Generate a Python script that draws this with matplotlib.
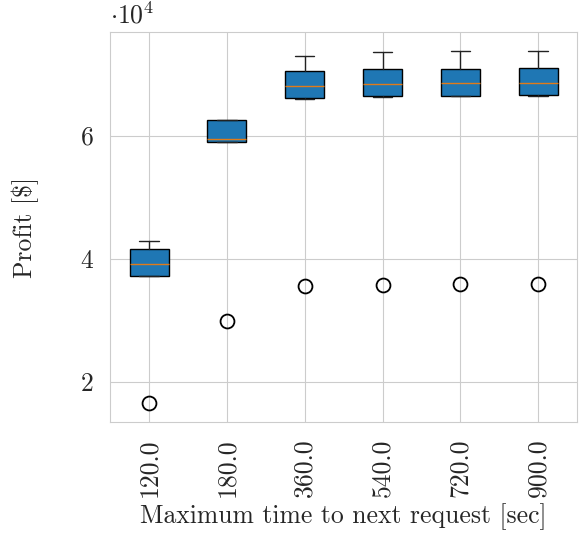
import matplotlib
matplotlib.use("Agg")
import matplotlib.pyplot as plt
import seaborn as sns
from matplotlib.ticker import FuncFormatter

# profit statistics per maximum wait time
wait_times = ["120.0", "180.0", "360.0", "540.0", "720.0", "900.0"]
medians = [39190, 59510, 68020, 68400, 68500, 68570]
q1 = [37280, 58980, 66020, 66390, 66450, 66500]
q3 = [41580, 62490, 70450, 70730, 70850, 70890]
whis_low = [37200, 58900, 65950, 66300, 66400, 66450]
whis_high = [42810, 62600, 72890, 73550, 73710, 73770]
outliers = [16590, 29900, 35610, 35770, 35930, 35940]

sns.set_style("whitegrid")
plt.rcParams["font.family"] = "serif"
plt.rcParams["font.serif"] = ["cmr10"]
plt.rcParams["mathtext.fontset"] = "cm"
plt.rcParams["axes.formatter.use_mathtext"] = True
plt.rcParams["font.size"] = 18.5

stats = []
for i in range(len(wait_times)):
    stats.append({
        "med": medians[i], "q1": q1[i], "q3": q3[i],
        "whislo": whis_low[i], "whishi": whis_high[i],
        "fliers": [outliers[i]], "label": wait_times[i],
    })

fig, ax = plt.subplots(figsize=(5.8, 5.39), dpi=100)
ax.bxp(stats, patch_artist=True, widths=0.5,
       boxprops=dict(facecolor="#1f77b4", edgecolor="black", linewidth=1.0),
       medianprops=dict(color="#e07b1a", linewidth=1.0),
       whiskerprops=dict(color="#222222", linewidth=1.0),
       capprops=dict(color="#222222", linewidth=1.0),
       flierprops=dict(marker="o", markersize=10, markerfacecolor="none",
                       markeredgecolor="black", markeredgewidth=1.3))

ax.set_ylim(13500, 76750)
ax.set_yticks([20000, 40000, 60000])
ax.yaxis.set_major_formatter(FuncFormatter(lambda v, p: "%d" % round(v / 1e4)))
ax.text(0.0, 1.01, r"$\cdot10^{4}$", transform=ax.transAxes, fontsize=18.5,
        ha="left", va="bottom")
ax.tick_params(axis="x", labelrotation=90)
ax.tick_params(length=0, pad=12)
ax.set_xlabel("Maximum time to next request [sec]", labelpad=4)
ax.set_ylabel("Profit [$]", labelpad=30)

fig.subplots_adjust(left=0.19, right=0.995, top=0.94, bottom=0.217)
fig.savefig("out.png")
